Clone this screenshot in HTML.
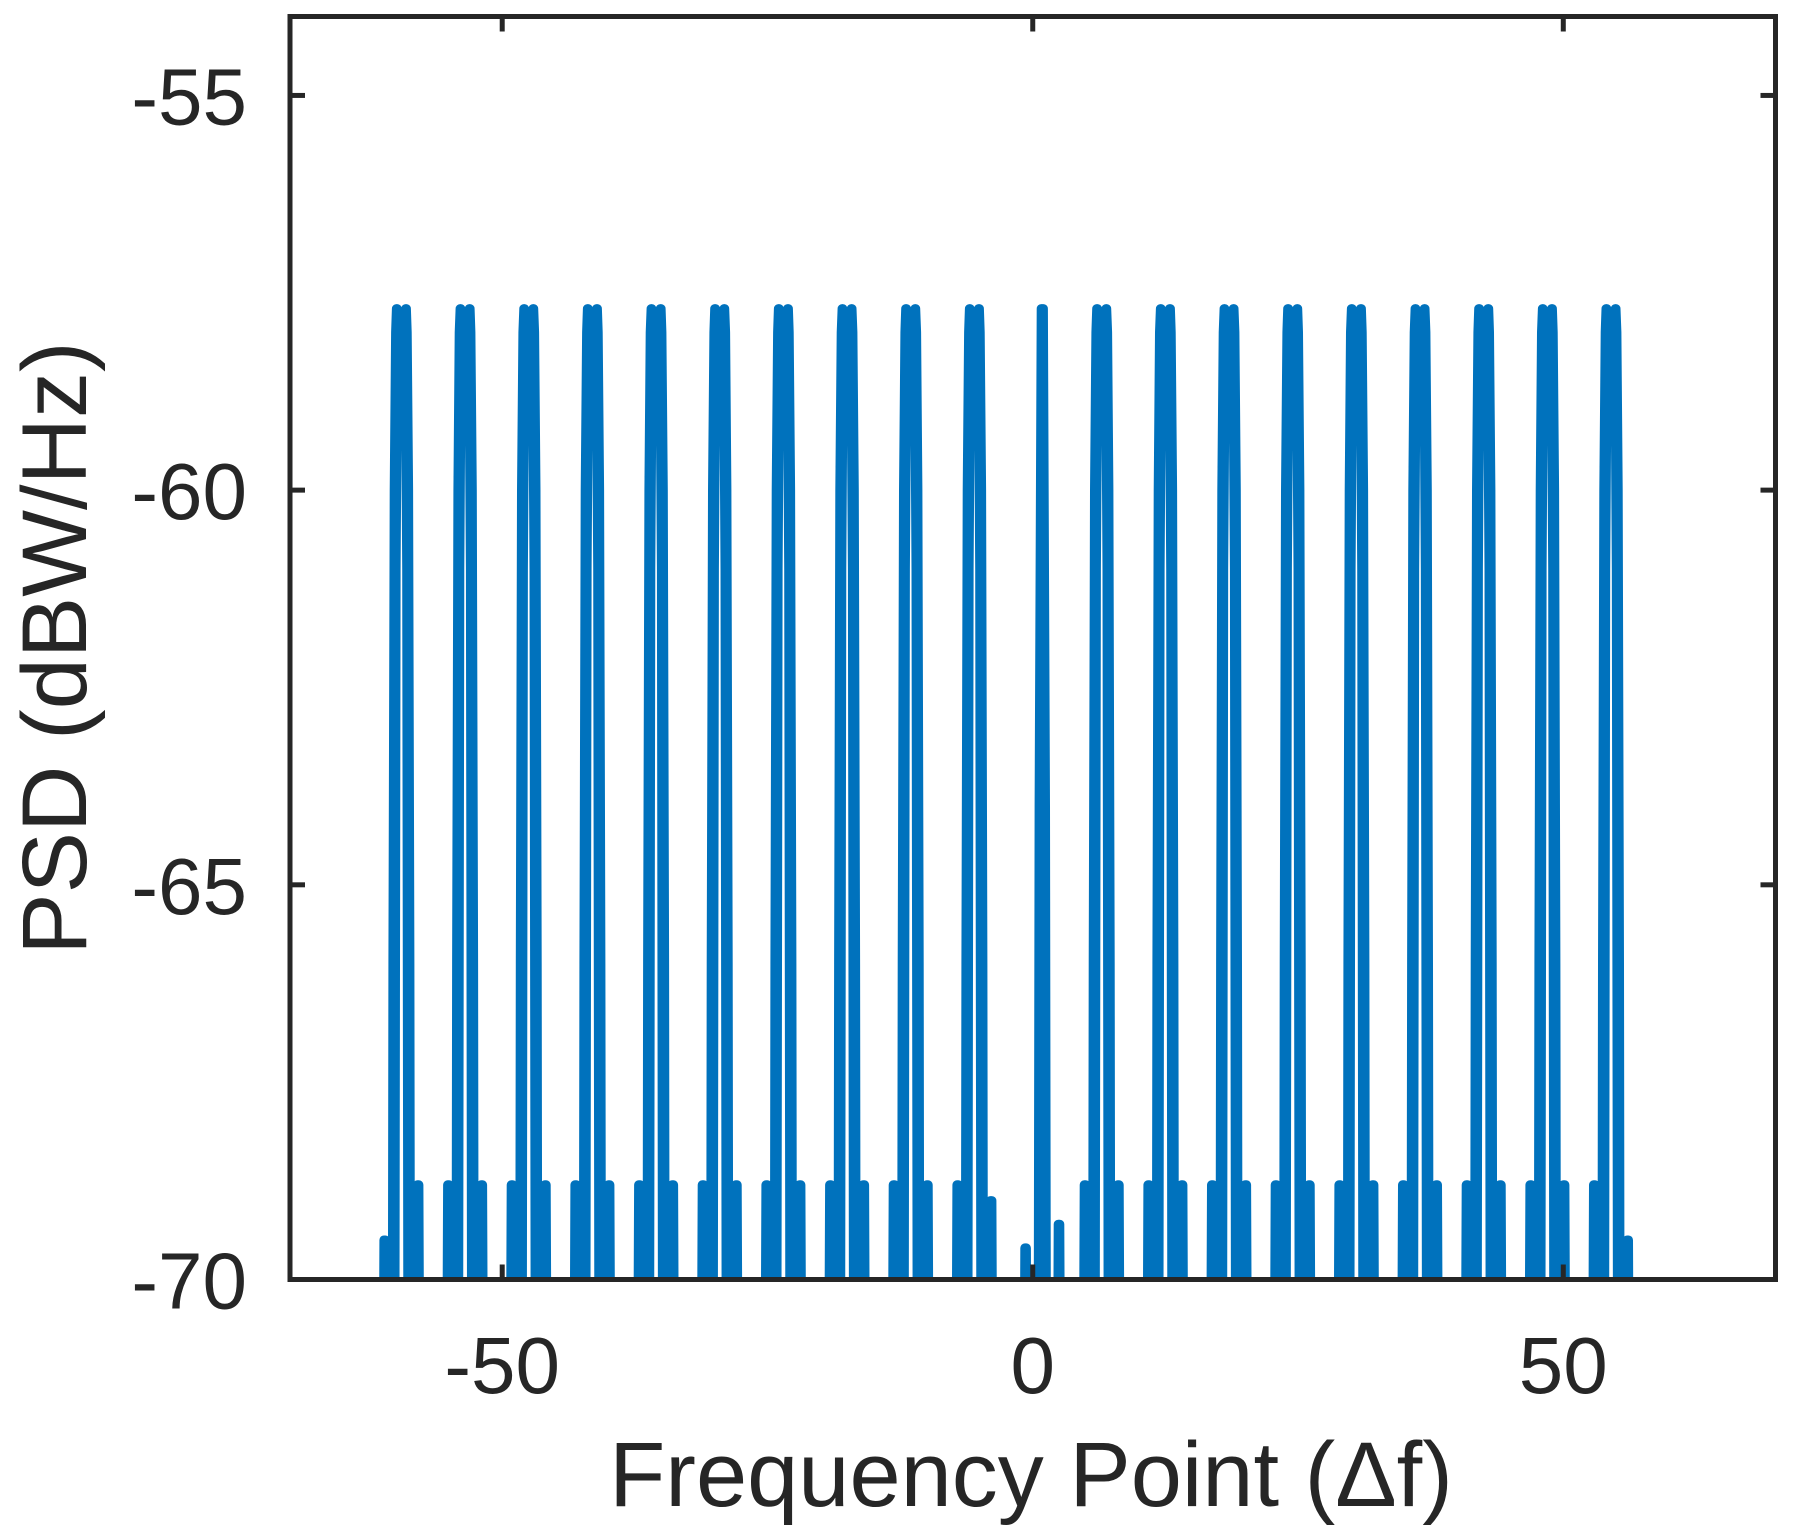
<!DOCTYPE html>
<html><head><meta charset="utf-8"><style>
html,body{margin:0;padding:0;background:#fff;overflow:hidden;}
svg{display:block;font-family:"Liberation Sans",Arial,sans-serif;}
</style></head><body>
<svg id="chart" width="1794" height="1538" viewBox="0 0 1794 1538" xmlns="http://www.w3.org/2000/svg">
<defs><clipPath id="plotclip"><rect x="290" y="16.5" width="1485.5" height="1263"/></clipPath></defs>
<rect x="0" y="0" width="1794" height="1538" fill="#fff"/>
<g id="series" clip-path="url(#plotclip)"></g>
<g id="axes"></g>
<text x="1031" y="1506" font-size="92" fill="#262626" text-anchor="middle">Frequency Point (Δf)</text>
<text x="0" y="0" font-size="92" fill="#262626" text-anchor="middle" transform="translate(86,648) rotate(-90)">PSD (dBW/Hz)</text>
</svg>
<script>
const lobeCenters = [-59.5,-53.5,-47.5,-41.5,-35.5,-29.5,-23.5,-17.5,-11.5,-5.5,0.9,6.5,12.5,18.5,24.5,30.5,36.5,42.5,48.5,54.5];
const lobePeak = [-57.7,-57.7,-57.7,-57.7,-57.7,-57.7,-57.7,-57.7,-57.7,-57.7,-57.7,-57.7,-57.7,-57.7,-57.7,-57.7,-57.7,-57.7,-57.7,-57.7];
const lobeDip = [-58.55,-58.55,-58.55,-58.55,-58.55,-58.55,-58.55,-58.55,-58.55,-58.55,null,-58.55,-58.55,-58.55,-58.55,-58.55,-58.55,-58.55,-58.55,-58.55];
const sideLeft = [-69.5,-68.8,-68.8,-68.8,-68.8,-68.8,-68.8,-68.8,-68.8,-68.8,-69.6,-68.8,-68.8,-68.8,-68.8,-68.8,-68.8,-68.8,-68.8,-68.8];
const sideRight = [-68.8,-68.8,-68.8,-68.8,-68.8,-68.8,-68.8,-68.8,-68.8,-69.0,-69.3,-68.8,-68.8,-68.8,-68.8,-68.8,-68.8,-68.8,-68.8,-69.5];
const xTicks = [-50,0,50];
const xTickLabels = ["-50","0","50"];
const yTicks = [-55,-60,-65,-70];
const yTickLabels = ["-55","-60","-65","-70"];

const X0=290, X1=1775.5, Y0=16.5, Y1=1279.5;
const xMin=-70, xMax=70, yMin=-70, yMax=-54;
function xs(v){return X0+(v-xMin)/(xMax-xMin)*(X1-X0);}
function ys(v){return Y1-(v-yMin)/(yMax-yMin)*(Y1-Y0);}
const NS="http://www.w3.org/2000/svg";

let pts=[];
for(let i=0;i<lobeCenters.length;i++){
  const c=lobeCenters[i], p=lobePeak[i], d=lobeDip[i], sl=sideLeft[i], sr=sideRight[i];
  pts.push([c-2.0,-80],[c-1.65,sl],[c-1.5,sl],[c-1.2,-80]);
  if(d===null){
    pts.push([c-0.5,-80],[c-0.3,-64],[c-0.1,p],[c+0.1,p],[c+0.3,-64],[c+0.5,-80]);
  } else {
    pts.push([c-0.95,-80],[c-0.8,-66],[c-0.68,-60],[c-0.55,-58],[c-0.47,p],[c-0.4,p],[c-0.38,d],
             [c-0.5,-61],[c-0.62,-72],[c-0.66,-80],[c+0.66,-80],[c+0.62,-72],[c+0.5,-61],[c+0.38,d],
             [c+0.4,p],[c+0.47,p],[c+0.55,-58],[c+0.68,-60],[c+0.8,-66],[c+0.95,-80]);
  }
  pts.push([c+1.2,-80],[c+1.5,sr],[c+1.65,sr],[c+2.0,-80]);
}
const path=document.createElementNS(NS,'path');


path.setAttribute('d',pts.map((q,k)=>(k?'L':'M')+xs(q[0]).toFixed(1)+','+ys(q[1]).toFixed(1)).join(''));
path.setAttribute('fill','none');
path.setAttribute('stroke','#0072BD');
path.setAttribute('stroke-width','9');
path.setAttribute('stroke-linejoin','round');
document.getElementById('series').appendChild(path);

const axes=document.getElementById('axes');
const box=document.createElementNS(NS,'rect');


box.setAttribute('x',X0);box.setAttribute('y',Y0);
box.setAttribute('width',X1-X0);box.setAttribute('height',Y1-Y0);
box.setAttribute('fill','none');box.setAttribute('stroke','#262626');box.setAttribute('stroke-width','5');
axes.appendChild(box);

function line(x1,y1,x2,y2,name){
  const l=document.createElementNS(NS,'line');
  
  
  l.setAttribute('x1',x1);l.setAttribute('y1',y1);l.setAttribute('x2',x2);l.setAttribute('y2',y2);
  l.setAttribute('stroke','#262626');l.setAttribute('stroke-width','5');
  axes.appendChild(l);
}
function label(x,y,txt,anchor,name){
  const t=document.createElementNS(NS,'text');
  
  
  t.setAttribute('x',x);t.setAttribute('y',y);
  t.setAttribute('font-size','80');t.setAttribute('fill','#262626');
  t.setAttribute('text-anchor',anchor);
  t.textContent=txt;
  axes.appendChild(t);
}
xTicks.forEach((v,i)=>{
  const x=xs(v);
  line(x,Y1,x,Y1-15,'x-tick');
  line(x,Y0,x,Y0+15,'x-tick-top');
  label(x,1393,xTickLabels[i],'middle','x-tick-label');
});
yTicks.forEach((v,i)=>{
  const y=ys(v);
  line(X0,y,X0+15,y,'y-tick');
  line(X1,y,X1-15,y,'y-tick-right');
  label(247,y+29,yTickLabels[i],'end','y-tick-label');
});
</script>
</body></html>
